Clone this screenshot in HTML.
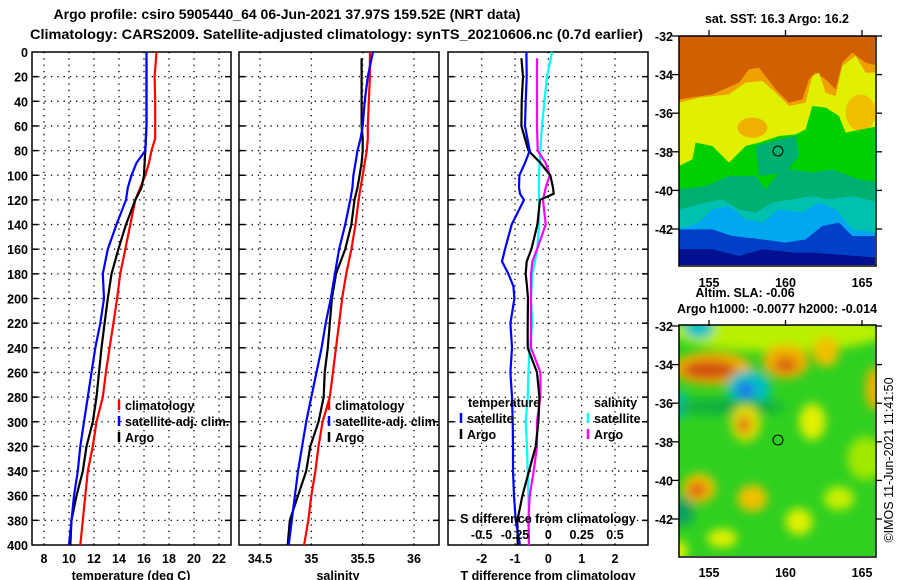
<!DOCTYPE html>
<html><head><meta charset="utf-8"><style>
html,body{margin:0;padding:0;background:#fff;}
svg{display:block;font-family:"Liberation Sans",Arial,sans-serif;}
.b{font-weight:bold;font-size:12.5px;}
.t{font-weight:bold;font-size:14px;}
</style></head><body>
<svg id="chart" width="900" height="580" viewBox="0 0 900 580" xmlns="http://www.w3.org/2000/svg">
<defs>
<filter id="blur" x="-50%" y="-50%" width="200%" height="200%"><feGaussianBlur stdDeviation="14"/></filter>
<clipPath id="clipTop" clipPathUnits="userSpaceOnUse"><rect x="679" y="36" width="196" height="229"/></clipPath>
<clipPath id="clipBot" clipPathUnits="userSpaceOnUse"><rect x="679" y="325" width="196" height="231"/></clipPath>
</defs>
<text class="t" x="287" y="19" text-anchor="middle">Argo profile: csiro 5905440_64 06-Jun-2021 37.97S 159.52E (NRT data)</text>
<text class="t" x="30" y="39" textLength="613" lengthAdjust="spacingAndGlyphs">Climatology: CARS2009. Satellite-adjusted climatology: synTS_20210606.nc (0.7d earlier)</text>
<g id="panels"></g>

<!-- SST map -->
<g>
<text class="b" x="777" y="23" text-anchor="middle">sat. SST: 16.3 Argo: 16.2</text>
<g clip-path="url(#clipTop)">
<g transform="translate(679,36) scale(0.3333)">
<rect x="0" y="0" width="600" height="700" fill="#f0a000"/>
<polygon fill="#d06000" points="0,0 600,0 600,90 560,80 520,50 490,80 470,160 440,130 410,110 390,130 370,190 330,200 290,160 240,95 210,100 180,140 100,175 0,190"/>
<polygon fill="#e0f000" points="0,200 60,185 150,175 200,140 250,135 290,170 330,210 380,200 400,120 420,110 440,170 470,180 490,90 530,60 560,110 600,110 600,700 0,700"/>
<ellipse cx="220" cy="275" rx="45" ry="30" fill="#f0b000"/>
<ellipse cx="545" cy="230" rx="45" ry="55" fill="#f0c000"/>
<polygon fill="#00d000" points="0,390 40,370 50,320 100,330 150,380 200,330 240,320 300,300 350,295 380,280 400,210 440,215 480,240 500,290 600,270 600,700 0,700"/>
<polygon fill="#00b070" points="230,330 300,310 350,300 360,360 320,410 240,420"/>
<polygon fill="#00b070" points="0,460 80,450 150,420 230,420 260,460 300,410 340,400 400,410 460,400 540,430 600,440 600,700 0,700"/>
<polygon fill="#00c0b0" points="0,520 80,500 130,490 180,520 230,530 280,500 340,490 400,480 450,490 520,480 600,500 600,700 0,700"/>
<polygon fill="#00a8f0" points="0,580 60,560 100,520 150,510 200,550 250,560 300,520 370,530 420,500 470,520 520,580 600,590 600,700 0,700"/>
<polygon fill="#0040c8" points="0,580 100,580 160,600 250,610 320,620 380,610 430,570 480,560 520,600 600,600 600,700 0,700"/>
<polygon fill="#001090" points="0,640 100,640 180,660 250,640 350,650 400,650 600,665 600,700 0,700"/>
</g>
</g>
<rect x="679" y="36" width="197" height="230" fill="none" stroke="#000" stroke-width="1.5"/>
<circle cx="778" cy="151" r="5" fill="none" stroke="#000" stroke-width="1"/>
</g>

<!-- SLA map -->
<g>
<text class="b" x="745" y="297" text-anchor="middle">Altim. SLA: -0.06</text>
<text class="b" x="777" y="313" text-anchor="middle">Argo h1000: -0.0077 h2000: -0.014</text>
<g clip-path="url(#clipBot)">
<rect x="679" y="325" width="197" height="232" fill="#30d020"/>
<g transform="translate(679,325) scale(0.3333)">
<g filter="url(#blur)">
<ellipse cx="300" cy="20" rx="320" ry="60" fill="#b8f000"/>
<ellipse cx="100" cy="130" rx="120" ry="50" fill="#f0b000"/>
<ellipse cx="90" cy="135" rx="80" ry="28" fill="#d05010"/>
<ellipse cx="320" cy="110" rx="70" ry="50" fill="#f0b000"/>
<ellipse cx="320" cy="120" rx="35" ry="22" fill="#d86010"/>
<ellipse cx="440" cy="80" rx="40" ry="45" fill="#f0c000"/>
<ellipse cx="60" cy="10" rx="45" ry="30" fill="#00c0c8"/>
<ellipse cx="210" cy="190" rx="65" ry="55" fill="#00c0c0"/>
<ellipse cx="200" cy="195" rx="28" ry="22" fill="#2070f0"/>
<ellipse cx="0" cy="240" rx="25" ry="40" fill="#00c0c0"/>
<ellipse cx="150" cy="245" rx="170" ry="25" fill="#10b040"/>
<ellipse cx="200" cy="295" rx="45" ry="55" fill="#e0e000"/>
<ellipse cx="195" cy="300" rx="22" ry="28" fill="#e08010"/>
<ellipse cx="400" cy="290" rx="40" ry="55" fill="#e0f000"/>
<ellipse cx="585" cy="190" rx="25" ry="65" fill="#f0b000"/>
<ellipse cx="60" cy="490" rx="50" ry="45" fill="#f0c000"/>
<ellipse cx="55" cy="495" rx="28" ry="22" fill="#e06010"/>
<ellipse cx="220" cy="520" rx="45" ry="40" fill="#f0c000"/>
<ellipse cx="10" cy="560" rx="35" ry="45" fill="#10a060"/>
<ellipse cx="130" cy="640" rx="45" ry="28" fill="#e0f000"/>
<ellipse cx="360" cy="590" rx="40" ry="40" fill="#e0f000"/>
<ellipse cx="480" cy="520" rx="45" ry="35" fill="#c8f000"/>
<ellipse cx="560" cy="400" rx="55" ry="65" fill="#a0e800"/>
<ellipse cx="0" cy="680" rx="25" ry="35" fill="#e0f000"/>
</g>
</g>
</g>
<rect x="679" y="325" width="197" height="232" fill="none" stroke="#000" stroke-width="1.5"/>
<circle cx="778" cy="440" r="5" fill="none" stroke="#000" stroke-width="1"/>
</g>
<text x="0" y="0" font-size="12.5" transform="translate(893,460) rotate(-90)" text-anchor="middle">©IMOS 11-Jun-2021 11:41:50</text>
<g id="mapaxes"></g>
</svg>
<script>
const depthsT = [0,20,40,60,70,80,90,100,110,120,140,160,180,200,220,240,260,280,300,320,340,360,380,400];
const tempClim = [17.0,16.85,16.9,16.9,16.9,16.6,16.4,16.1,15.7,15.3,14.9,14.5,14.1,13.85,13.55,13.25,12.95,12.7,12.2,11.9,11.5,11.3,11.1,10.9];
const tempSat  = [16.2,16.2,16.2,16.2,16.15,16.1,15.4,15.0,14.7,14.56,13.8,13.1,12.7,12.8,12.5,12.1,11.8,11.5,11.2,10.9,10.7,10.4,10.2,10.0];
const depthsArgo = [5,20,40,60,70,80,90,100,110,120,140,160,180,200,220,240,260,280,300,320,340,360,380,400];
const tempArgo = [16.2,16.2,16.2,16.2,16.15,16.1,16.05,16.0,15.8,15.3,14.56,13.95,13.4,13.1,12.85,12.6,12.4,12.2,11.9,11.4,11.1,10.6,10.2,10.1];
const salClim = [35.57,35.57,35.56,35.55,35.55,35.54,35.52,35.5,35.48,35.46,35.43,35.39,35.34,35.3,35.27,35.24,35.21,35.18,35.11,35.07,35.04,35.0,34.97,34.93];
const salSat  = [35.6,35.55,35.52,35.5,35.48,35.45,35.43,35.41,35.4,35.38,35.33,35.27,35.23,35.19,35.14,35.1,35.05,35.0,34.95,34.91,34.87,34.84,34.81,34.78];
const salArgo = [35.49,35.49,35.49,35.49,35.5,35.5,35.49,35.47,35.45,35.42,35.39,35.33,35.24,35.2,35.18,35.16,35.13,35.12,35.07,34.99,34.95,34.87,34.79,34.77];
const depthsD = [0,20,40,60,80,90,100,110,115,120,140,160,170,180,190,200,220,240,260,280,300,320,340,360,380,400];
const dTsat  = [-0.66,-0.65,-0.68,-0.7,-0.56,-0.7,-0.87,-0.88,-0.85,-0.73,-1.1,-1.3,-1.39,-1.2,-1.05,-1.02,-1.14,-1.09,-1.14,-1.09,-1.07,-1.06,-1.06,-1.03,-0.98,-0.85];
const dTargo = [-0.81,-0.76,-0.8,-0.81,-0.6,-0.24,0.06,0.14,0.16,-0.25,-0.33,-0.51,-0.65,-0.68,-0.64,-0.61,-0.62,-0.62,-0.34,-0.27,-0.3,-0.38,-0.58,-0.78,-0.93,-0.92];
const dSsat  = [0.028,-0.01,-0.03,-0.048,-0.06,-0.065,-0.07,-0.07,-0.07,-0.07,-0.07,-0.083,-0.1,-0.12,-0.125,-0.13,-0.12,-0.14,-0.15,-0.155,-0.17,-0.16,-0.155,-0.15,-0.145,-0.145];
const dSargo = [-0.085,-0.085,-0.085,-0.085,-0.08,-0.02,0.01,-0.02,-0.03,-0.04,-0.02,-0.085,-0.12,-0.13,-0.13,-0.13,-0.13,-0.13,-0.06,-0.06,-0.085,-0.085,-0.11,-0.14,-0.15,-0.145];
const depthTicks = [0,20,40,60,80,100,120,140,160,180,200,220,240,260,280,300,320,340,360,380,400];
const tempTicks = [8,10,12,14,16,18,20,22];
const salTicks = [34.5,35,35.5,36];
const salTickLabels = ["34.5","35","35.5","36"];
const dTTicks = [-2,-1,0,1,2];
const dSTicks = [-0.5,-0.25,0,0.25,0.5];
const dSTickLabels = ["-0.5","-0.25","0","0.25","0.5"];
const latTicks = [-32,-34,-36,-38,-40,-42];
const lonTicks = [155,160,165];

const NS='http://www.w3.org/2000/svg';
const root=document.getElementById('panels');
function mk(tag,attrs,parent){const e=document.createElementNS(NS,tag);for(const k in attrs)e.setAttribute(k,attrs[k]);(parent||root).appendChild(e);return e;}
const Y0=52,Y1=545;
function yD(d){return Y0+(d/400)*(Y1-Y0);}
function lin(d0,d1,r0,r1){return v=>r0+(v-d0)/(d1-d0)*(r1-r0);}
const panels=[
 {name:'temperature-panel',x0:32,x1:231,sx:lin(8,22,44,219)},
 {name:'salinity-panel',x0:239,x1:439,sx:lin(34.5,36,260,414)},
 {name:'difference-panel',x0:448,x1:648,sx:lin(-2,2,481.7,615)}
];
const sxS=lin(-0.5,0.5,481.7,615);
function grid(p,ticks){
  const g=mk('g',{});
  
  
  depthTicks.forEach(d=>{if(d===0||d===400)return;mk('line',{x1:p.x0,x2:p.x1,y1:yD(d),y2:yD(d),stroke:'#000','stroke-width':1.3,'stroke-dasharray':'1.3,5'},g);
    mk('line',{x1:p.x0,x2:p.x0+6,y1:yD(d),y2:yD(d),stroke:'#000','stroke-width':1.5},g);
    mk('line',{x1:p.x1-6,x2:p.x1,y1:yD(d),y2:yD(d),stroke:'#000','stroke-width':1.5},g);});
  ticks.forEach(v=>{const x=p.sx(v);mk('line',{x1:x,x2:x,y1:Y0,y2:Y1,stroke:'#000','stroke-width':1.3,'stroke-dasharray':'1.3,5'},g);});
  const fr=mk('rect',{x:p.x0,y:Y0,width:p.x1-p.x0,height:Y1-Y0,fill:'none',stroke:'#000','stroke-width':1.5});
  
  
}
function line(p,sx,vals,depths,color,name){
  const pts=vals.map((v,i)=>sx(v).toFixed(1)+','+yD(depths[i]).toFixed(1)).join(' ');
  const e=mk('polyline',{points:pts,fill:'none',stroke:color,'stroke-width':2.2,'stroke-linejoin':'miter'});
  
  
}
function txt(x,y,s,anchor,name,parent){const e=mk('text',{x:x,y:y,'class':'b','text-anchor':anchor||'start'},parent);e.textContent=s;
  
  
  return e;}
function legend(x,y,color,label,name){
  const e=mk('line',{x1:x,x2:x,y1:y-10,y2:y,stroke:color,'stroke-width':2.5});
  
  
  txt(x+6,y,label,'start',name);
}
depthTicks.forEach(d=>txt(28,yD(d)+5,String(d),'end','depth-tick-label'));
grid(panels[0],tempTicks);
line(panels[0],panels[0].sx,tempClim,depthsT,'#ff0000','temp-climatology-line');
line(panels[0],panels[0].sx,tempArgo,depthsArgo,'#000000','temp-argo-line');
line(panels[0],panels[0].sx,tempSat,depthsT,'#0000ff','temp-satellite-line');
tempTicks.forEach(v=>txt(panels[0].sx(v),563,String(v),'middle','temp-tick-label'));
txt(131,580,'temperature (deg C)','middle','temp-axis-title');
legend(119,410,'#ff0000','climatology','temp-legend-climatology');
legend(119,426,'#0000ff','satellite-adj. clim.','temp-legend-satellite');
legend(119,442,'#000000','Argo','temp-legend-argo');
grid(panels[1],salTicks);
line(panels[1],panels[1].sx,salClim,depthsT,'#ff0000','sal-climatology-line');
line(panels[1],panels[1].sx,salArgo,depthsArgo,'#000000','sal-argo-line');
line(panels[1],panels[1].sx,salSat,depthsT,'#0000ff','sal-satellite-line');
salTicks.forEach((v,i)=>txt(panels[1].sx(v),563,salTickLabels[i],'middle','sal-tick-label'));
txt(338,580,'salinity','middle','sal-axis-title');
legend(329,410,'#ff0000','climatology','sal-legend-climatology');
legend(329,426,'#0000ff','satellite-adj. clim.','sal-legend-satellite');
legend(329,442,'#000000','Argo','sal-legend-argo');
grid(panels[2],dTTicks);
line(panels[2],sxS,dSsat,depthsD,'#00ffff','dsal-satellite-line');
line(panels[2],sxS,dSargo,depthsD.map((d,i)=>i===0?5:d),'#ff00ff','dsal-argo-line');
line(panels[2],panels[2].sx,dTargo,depthsD.map((d,i)=>i===0?5:d),'#000000','dtemp-argo-line');
line(panels[2],panels[2].sx,dTsat,depthsD,'#0000ff','dtemp-satellite-line');
dTTicks.forEach(v=>txt(panels[2].sx(v),563,String(v),'middle','dtemp-tick-label'));
txt(548,580,'T difference from climatology','middle','dtemp-axis-title');
txt(548,523,'S difference from climatology','middle','dsal-axis-title');
dSTicks.forEach((v,i)=>txt(sxS(v),539,dSTickLabels[i],'middle','dsal-tick-label'));
txt(468,407,'temperature','start','diff-legend-temperature-heading');
legend(461,423,'#0000ff','satellite','diff-legend-temp-satellite');
legend(461,439,'#000000','Argo','diff-legend-temp-argo');
txt(594,407,'salinity','start','diff-legend-salinity-heading');
legend(588,423,'#00ffff','satellite','diff-legend-sal-satellite');
legend(588,439,'#ff00ff','Argo','diff-legend-sal-argo');
const ma=document.getElementById('mapaxes');
[{y0:36,y1:229,ylab:287},{y0:326,y1:519,ylab:577}].forEach((m,mi)=>{
  const yl=lin(-32,-42,m.y0,m.y1), xl=lin(155,165,709,862);
  latTicks.forEach(v=>{const y=yl(v);
    mk('line',{x1:672,x2:679,y1:y,y2:y,stroke:'#000','stroke-width':1.3},ma);
    mk('line',{x1:876,x2:882,y1:y,y2:y,stroke:'#000','stroke-width':1.3},ma);
    txt(673,y+5,String(v),'end','map-lat-label',ma);});
  lonTicks.forEach(v=>{const x=xl(v);
    mk('line',{x1:x,x2:x,y1:m.y0-6,y2:m.y0,stroke:'#000','stroke-width':1.3},ma);
    txt(x,m.ylab,String(v),'middle','map-lon-label',ma);});
});
</script>
</body></html>
